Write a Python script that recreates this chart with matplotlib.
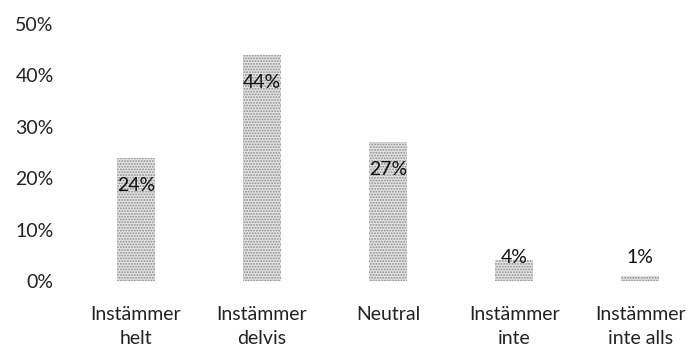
import matplotlib
matplotlib.use("Agg")
import matplotlib.pyplot as plt
import numpy as np

categories = ["Instämmer\nhelt", "Instämmer\ndelvis", "Neutral", "Instämmer\ninte", "Instämmer\ninte alls"]
values = [0.24, 0.44, 0.27, 0.04, 0.01]
labels = ["24%", "44%", "27%", "4%", "1%"]
yticks = [0, 0.1, 0.2, 0.3, 0.4, 0.5]
ytick_labels = ["0%", "10%", "20%", "30%", "40%", "50%"]

plt.rcParams['font.family'] = ['Lato', 'DejaVu Sans']
plt.rcParams['hatch.linewidth'] = 0.9

fig = plt.figure(figsize=(6.95, 3.49), dpi=100)
ax = fig.add_axes([73/695, 68/349, 622/695, 257/349])

x = np.arange(len(categories))
ax.bar(x, values, width=0.3, color='#e4e4e4', edgecolor='#8c8c8c', linewidth=0, hatch='......')

for xi, v, lab in zip(x, values, labels):
    ypos = v - 0.054 if v > 0.1 else 0.045
    ax.text(xi, ypos, lab, ha='center', va='center', fontsize=14, color='#111111')

ax.set_xlim(-0.5, 4.435)
ax.set_ylim(0, 0.5)
ax.set_yticks(yticks)
ax.set_yticklabels(ytick_labels)
ax.set_xticks(x)
ax.set_xticklabels(categories, linespacing=1.5)
ax.tick_params(axis='both', length=0, labelsize=14, colors='#222222')
ax.tick_params(axis='x', pad=18)
ax.tick_params(axis='y', pad=14)
for s in ax.spines.values():
    s.set_visible(False)

fig.savefig("out.png", dpi=100)
